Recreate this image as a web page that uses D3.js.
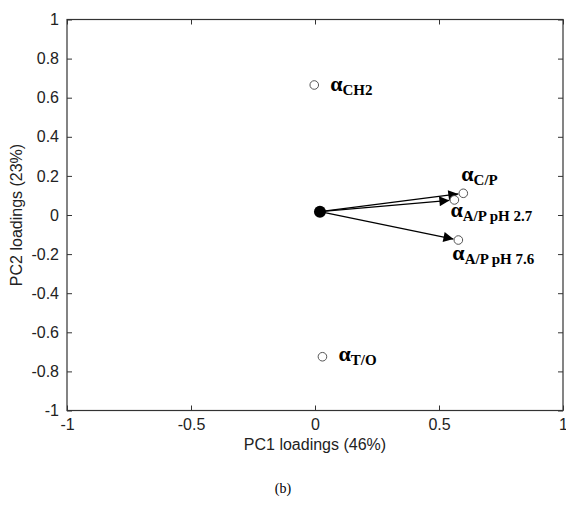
<!DOCTYPE html>
<html><head><meta charset="utf-8">
<script src="https://cdn.jsdelivr.net/npm/d3@7"></script>
<style>body{margin:0;background:#fff;} svg{display:block;}</style>
</head><body>
<svg id="c" width="566" height="505"></svg>
<script>
const xTicks = [-1, -0.5, 0, 0.5, 1];
const yTicks = [-1, -0.8, -0.6, -0.4, -0.2, 0, 0.2, 0.4, 0.6, 0.8, 1];
const origin = [0.02, 0.017];
const names = ["CH2", "T/O", "C/P", "A/P pH 2.7", "A/P pH 7.6"];
const pc1 = [-0.003, 0.03, 0.598, 0.562, 0.578];
const pc2 = [0.665, -0.725, 0.111, 0.077, -0.128];
const arrowed = [false, false, true, true, true];
const labelDx = [16, 16, -2, -4, -6];
const labelDy = [6, 4, -12, 17, 20];

const svg = d3.select("#c");
const L = 67, R = 563, T = 19.5, B = 410.5;
const x = d3.scaleLinear().domain([-1, 1]).range([L, R]);
const y = d3.scaleLinear().domain([-1, 1]).range([B, T]);
const axisFont = "Arial, 'Liberation Sans', sans-serif";
const fmt = d => String(d);

svg.append("defs").append("marker")
  .attr("id", "ah").attr("viewBox", "0 0 10 10").attr("refX", 10).attr("refY", 5)
  .attr("markerWidth", 16).attr("markerHeight", 10).attr("markerUnits", "userSpaceOnUse")
  .attr("orient", "auto")
  .append("path").attr("d", "M0,0 L10,5 L0,10 Z").attr("fill", "#000");

svg.append("rect").attr("x", L).attr("y", T).attr("width", R - L).attr("height", B - T)
  .attr("fill", "none").attr("stroke", "#333").attr("stroke-width", 1.2);

const gx = svg.append("g").attr("transform", `translate(0,${B})`)
  .call(d3.axisBottom(x).tickValues(xTicks).tickSize(-5).tickPadding(8).tickFormat(fmt));
const gxt = svg.append("g").attr("transform", `translate(0,${T})`)
  .call(d3.axisTop(x).tickValues(xTicks).tickSize(-5).tickFormat(""));
const gy = svg.append("g").attr("transform", `translate(${L},0)`)
  .call(d3.axisLeft(y).tickValues(yTicks).tickSize(-5).tickPadding(8).tickFormat(fmt));
const gyr = svg.append("g").attr("transform", `translate(${R},0)`)
  .call(d3.axisRight(y).tickValues(yTicks).tickSize(-5).tickFormat(""));
[gx, gxt, gy, gyr].forEach(g => {
  g.select(".domain").remove();
  g.selectAll("line").attr("stroke", "#333");
  g.selectAll("text").attr("font-family", axisFont).attr("font-size", 16).attr("fill", "#222");
});
gx.selectAll("text").attr("dy", "0.71em");

svg.append("text").attr("x", x(0)).attr("y", 450).attr("text-anchor", "middle")
  .attr("font-family", axisFont).attr("font-size", 16).attr("fill", "#222").text("PC1 loadings (46%)");
svg.append("text").attr("transform", `translate(22,${y(0)}) rotate(-90)`).attr("text-anchor", "middle")
  .attr("font-family", axisFont).attr("font-size", 16).attr("fill", "#222").text("PC2 loadings (23%)");
svg.append("text").attr("x", 283).attr("y", 493).attr("text-anchor", "middle")
  .attr("font-family", "'Liberation Serif', 'Times New Roman', serif").attr("font-size", 14).attr("fill", "#000").text("(b)");

const data = names.map((n, i) => ({ n, px: pc1[i], py: pc2[i], a: arrowed[i], dx: labelDx[i], dy: labelDy[i] }));

data.filter(d => d.a).forEach(d => {
  const x0 = x(origin[0]), y0 = y(origin[1]), x1 = x(d.px), y1 = y(d.py);
  const len = Math.hypot(x1 - x0, y1 - y0);
  const k = (len - 5) / len;
  svg.append("line").attr("x1", x0).attr("y1", y0)
    .attr("x2", x0 + (x1 - x0) * k).attr("y2", y0 + (y1 - y0) * k)
    .attr("stroke", "#000").attr("stroke-width", 1.3).attr("marker-end", "url(#ah)");
});

svg.append("circle").attr("cx", x(origin[0])).attr("cy", y(origin[1])).attr("r", 6).attr("fill", "#000");

svg.selectAll("circle.pt").data(data).join("circle").attr("class", "pt")
  .attr("cx", d => x(d.px)).attr("cy", d => y(d.py)).attr("r", 4.3)
  .attr("fill", "#fff").attr("stroke", "#555").attr("stroke-width", 1);

const lab = svg.selectAll("text.lab").data(data).join("text").attr("class", "lab")
  .attr("x", d => x(d.px) + d.dx).attr("y", d => y(d.py) + d.dy)
  .attr("font-family", "'Liberation Serif', 'Times New Roman', serif").attr("font-weight", "bold").attr("fill", "#000");
lab.append("tspan").attr("font-size", 22).text("α");
lab.append("tspan").attr("font-size", 15).attr("dy", 4).text(d => d.n);
</script>
</body></html>
